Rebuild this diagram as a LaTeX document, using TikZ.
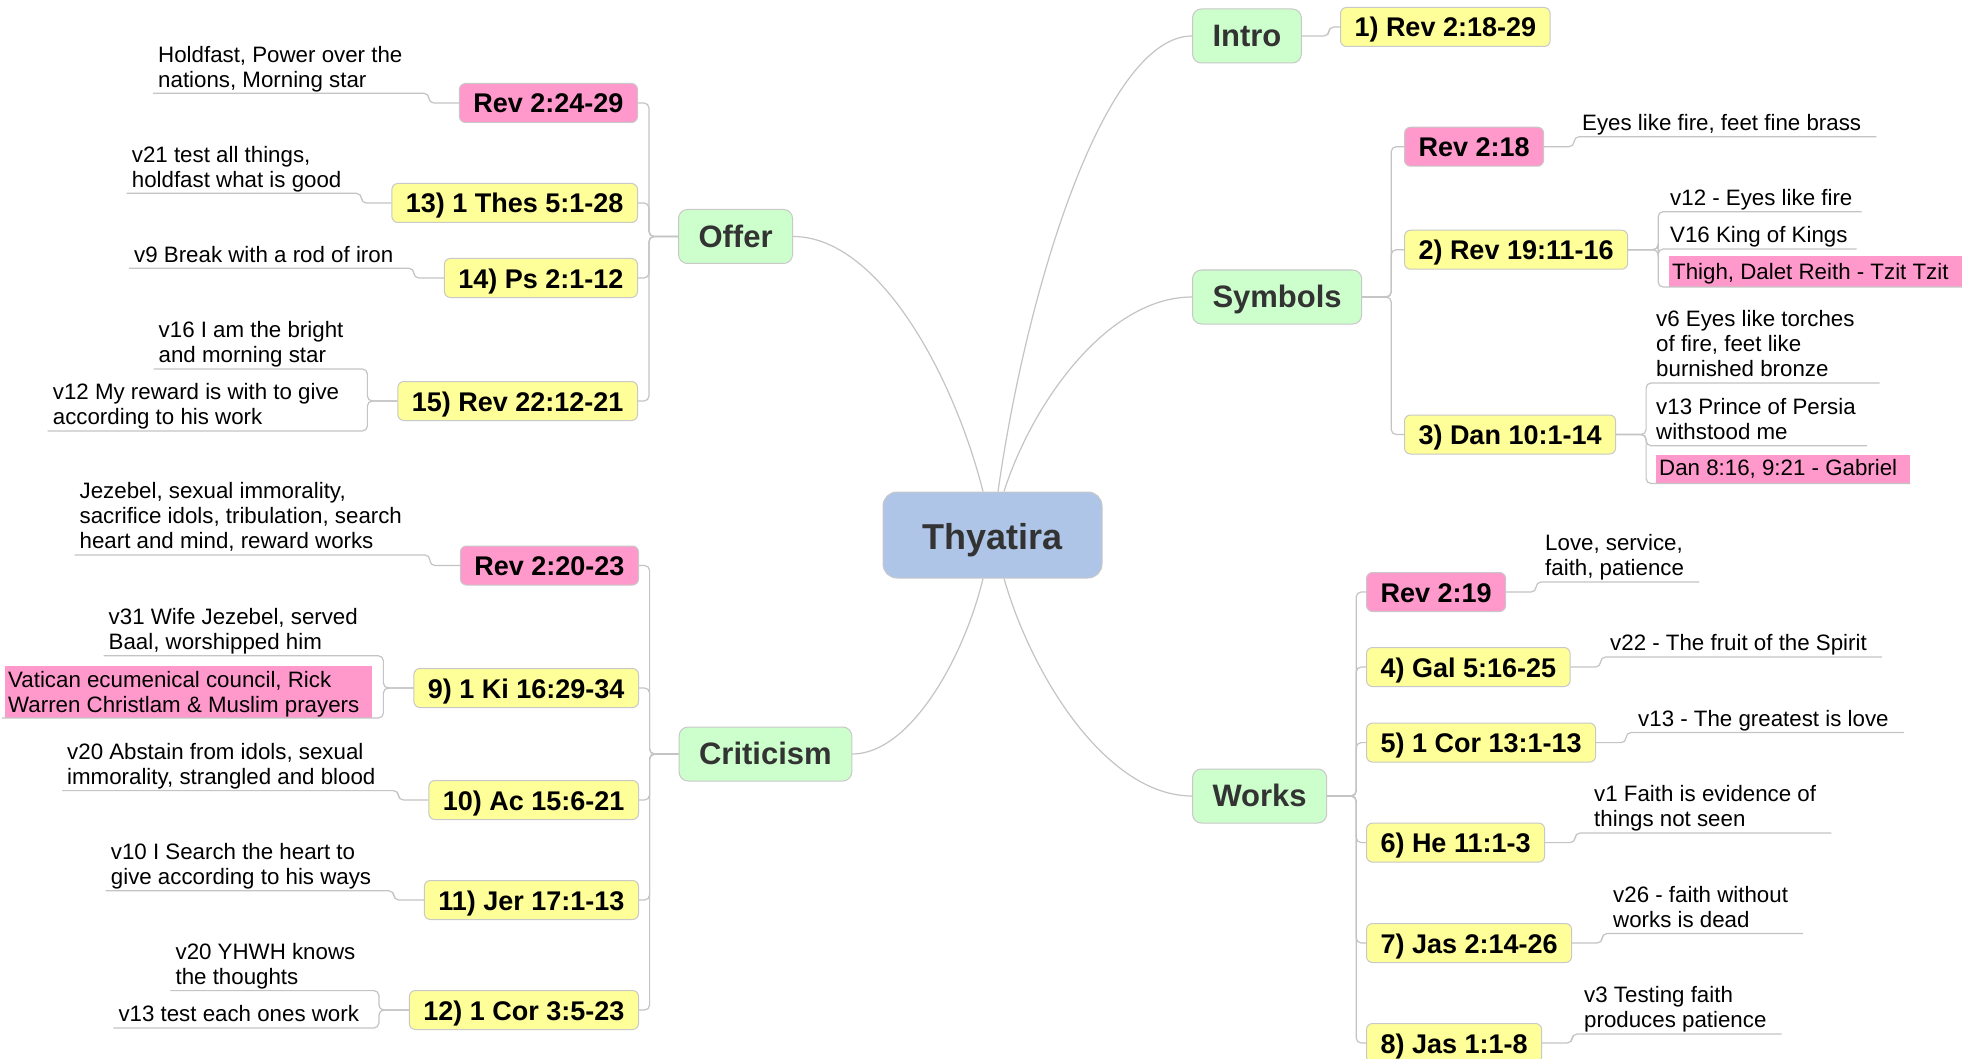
\documentclass[tikz,border=0pt]{standalone}
\usepackage{fontspec}
\setmainfont{Liberation Sans}
\usetikzlibrary{calc}
\definecolor{cblue}{HTML}{AFC5E8}
\definecolor{cgreen}{HTML}{CCFFCC}
\definecolor{cyellow}{HTML}{FFFF99}
\definecolor{cpink}{HTML}{FF99CC}
\definecolor{cborder}{HTML}{C8C8C8}
\definecolor{cline}{HTML}{C4C4C4}
\definecolor{ctext}{HTML}{333333}
\newcommand{\notefont}{\fontsize{22.3}{25}\selectfont}
\newcommand{\ns}{\rule[-6pt]{0pt}{6pt}}
\newcommand{\padr}{\hspace*{10pt}}
\begin{document}
\begin{tikzpicture}[x=1pt,y=-1pt,
  rootnode/.style={draw=cborder, line width=1pt, fill=cblue, rounded corners=14pt,
    minimum width=219pt, minimum height=86pt, inner sep=0pt,
    text height=34pt, text depth=6pt,
    font=\fontsize{36}{40}\selectfont\bfseries, text=ctext},
  maintopic/.style={draw=cborder, line width=1pt, fill=cgreen, rounded corners=9pt,
    inner xsep=20pt, inner ysep=0pt, minimum height=54pt,
    text height=27pt, text depth=5.6pt,
    font=\fontsize{31}{36}\selectfont\bfseries, text=ctext},
  subtopic/.style={draw=cborder, line width=1pt, rounded corners=6pt,
    inner xsep=14pt, inner ysep=0pt, minimum height=39pt,
    text height=24pt, text depth=4pt,
    font=\fontsize{27}{30}\selectfont\bfseries},
  yellowbox/.style={subtopic, fill=cyellow},
  pinkbox/.style={subtopic, fill=cpink},
  note/.style={font=\notefont, align=left, inner xsep=5pt, inner ysep=0pt},
  pinknote/.style={note, fill=cpink, inner xsep=3pt},
  link/.style={draw=cline, line width=1.2pt},
  branch/.style={draw=cline, line width=1.2pt, rounded corners=5pt},
]
\fill[white] (0,0) rectangle (1969,1059);
\useasboundingbox (0,0) rectangle (1969,1059);

% ---------- central and main topics ----------
\node[rootnode] (th) at (992.5,535) {Thyatira};
\node[maintopic, anchor=west] (intro) at (1192,36) {Intro};
\node[maintopic, anchor=west] (sym) at (1192,297) {Symbols};
\node[maintopic, anchor=west] (works) at (1192,796) {Works};
\node[maintopic, anchor=west] (offer) at (678,236.5) {Offer};
\node[maintopic, anchor=west] (crit) at (678.6,754) {Criticism};

% curves from the centre
\draw[link] ([xshift=-9.5pt]th.north) .. controls +(-29,-115) and +(86,0) .. (offer.east);
\draw[link] ([xshift=5.5pt]th.north) .. controls +(29,-205) and +(-87,0) .. (intro.west);
\draw[link] ([xshift=11.5pt]th.north) .. controls +(28,-88) and +(-85,0) .. (sym.west);
\draw[link] ([xshift=11.5pt]th.south) .. controls +(28,98) and +(-85,0) .. (works.west);
\draw[link] ([xshift=-9.5pt]th.south) .. controls +(-19,79) and +(58,0) .. (crit.east);

% ---------- subtopics ----------
\node[yellowbox, anchor=west] (i1) at (1340,27) {1) Rev 2:18-29};

\node[pinkbox, anchor=west] (s0) at (1404,146.7) {Rev 2:18};
\node[yellowbox, anchor=west] (s2) at (1404,249.7) {2) Rev 19:11-16};
\node[yellowbox, anchor=west] (s3) at (1404,434.5) {3) Dan 10:1-14};

\node[pinkbox, anchor=west] (w0) at (1366,592) {Rev 2:19};
\node[yellowbox, anchor=west] (w4) at (1366,667) {4) Gal 5:16-25};
\node[yellowbox, anchor=west] (w5) at (1366,742.6) {5) 1 Cor 13:1-13};
\node[yellowbox, anchor=west] (w6) at (1366,842.6) {6) He 11:1-3};
\node[yellowbox, anchor=west] (w7) at (1366,943) {7) Jas 2:14-26};
\node[yellowbox, anchor=west] (w8) at (1366,1043) {8) Jas 1:1-8};

\node[pinkbox, anchor=east] (o0) at (638,103) {Rev 2:24-29};
\node[yellowbox, anchor=east] (o13) at (638,203) {13) 1 Thes 5:1-28};
\node[yellowbox, anchor=east] (o14) at (638,278) {14) Ps 2:1-12};
\node[yellowbox, anchor=east] (o15) at (638,401) {15) Rev 22:12-21};

\node[pinkbox, anchor=east] (c0) at (639,565.5) {Rev 2:20-23};
\node[yellowbox, anchor=east] (c9) at (639,688) {9) 1 Ki 16:29-34};
\node[yellowbox, anchor=east] (c10) at (639,800) {10) Ac 15:6-21};
\node[yellowbox, anchor=east] (c11) at (639,900) {11) Jer 17:1-13};
\node[yellowbox, anchor=east] (c12) at (639,1010) {12) 1 Cor 3:5-23};

\draw[branch] (intro.east) -- ++(27,0) |- (i1.west);
\foreach \c in {s0,s2,s3} \draw[branch] (sym.east) -- ++(29,0) |- (\c.west);
\foreach \c in {w0,w4,w5,w6,w7,w8} \draw[branch] (works.east) -- ++(29,0) |- (\c.west);
\foreach \c in {o0,o13,o14,o15} \draw[branch] (offer.west) -- ++(-29,0) |- (\c.east);
\foreach \c in {c0,c9,c10,c11,c12} \draw[branch] (crit.west) -- ++(-29,0) |- (\c.east);

% ---------- notes, right side ----------
\node[note, anchor=south west] (ns0) at (1577,136.7) {Eyes like fire, feet fine brass\ns};
\draw[branch] (s0.east) -- ++(30,0) |- ([xshift=10pt]ns0.south east);

\node[note, anchor=south west] (ns2a) at (1665,211.7) {v12 - Eyes like fire\ns};
\node[note, anchor=south west] (ns2b) at (1665,249) {V16 King of Kings\ns};
\node[pinknote, anchor=south west] (ns2c) at (1669,287) {\rule{0pt}{23.5pt}Thigh, Dalet Reith - Tzit Tzit\padr\strut};
\draw[branch] (s2.east) -- ++(30,0) |- ([xshift=4pt]ns2a.south east);
\draw[branch] (s2.east) -- ++(30,0) |- ([xshift=4pt]ns2b.south east);
\draw[branch] (s2.east) -- ++(30,0) |- (ns2c.south east);

\node[note, anchor=south west] (ns3a) at (1651,383) {v6 Eyes like torches\\of fire, feet like\\burnished bronze\ns};
\node[note, anchor=south west] (ns3b) at (1651,445.7) {v13 Prince of Persia\\withstood me\ns};
\node[pinknote, anchor=south west] (ns3c) at (1656,483.5) {\rule{0pt}{21pt}Dan 8:16, 9:21 - Gabriel\padr\strut};
\draw[branch] (s3.east) -- ++(30,0) |- ([xshift=20pt]ns3a.south east);
\draw[branch] (s3.east) -- ++(30,0) |- ([xshift=6pt]ns3b.south east);
\draw[branch] (s3.east) -- ++(30,0) |- (ns3c.south east);

\node[note, anchor=south west] (nw0) at (1540,582) {Love, service,\\faith, patience\ns};
\node[note, anchor=south west] (nw4) at (1605,657) {v22 - The fruit of the Spirit\ns};
\node[note, anchor=south west] (nw5) at (1633,732.5) {v13 - The greatest is love\ns};
\node[note, anchor=south west] (nw6) at (1589,833) {v1 Faith is evidence of\\things not seen\ns};
\node[note, anchor=south west] (nw7) at (1608,933.5) {v26 - faith without\\works is dead\ns};
\node[note, anchor=south west] (nw8) at (1579,1034) {v3 Testing faith\\produces patience\ns};
\draw[branch] (w0.east) -- ++(30,0) |- ([xshift=10pt]nw0.south east);
\draw[branch] (w4.east) -- ++(30,0) |- ([xshift=10pt]nw4.south east);
\draw[branch] (w5.east) -- ++(30,0) |- ([xshift=10pt]nw5.south east);
\draw[branch] (w6.east) -- ++(30,0) |- ([xshift=10pt]nw6.south east);
\draw[branch] (w7.east) -- ++(30,0) |- ([xshift=10pt]nw7.south east);
\draw[branch] (w8.east) -- ++(30,0) |- ([xshift=10pt]nw8.south east);

% ---------- notes, left side ----------
\node[note, anchor=south west] (no0) at (153,93.3) {Holdfast, Power over the\\nations, Morning star\ns};
\node[note, anchor=south west] (no13) at (126.7,193.3) {v21 test all things,\\holdfast what is good\ns};
\node[note, anchor=south west] (no14) at (129,268.3) {v9 Break with a rod of iron\ns};
\node[note, anchor=south west] (no15a) at (153.5,369) {v16 I am the bright\\and morning star\ns};
\node[note, anchor=south west] (no15b) at (47.7,431) {v12 My reward is with to give\\according to his work\ns};
\draw[branch] (o0.west) -- ++(-30,0) |- (no0.south west);
\draw[branch] (o13.west) -- ++(-30,0) |- (no13.south west);
\draw[branch] (o14.west) -- ++(-30,0) |- (no14.south west);
\draw[branch] (o15.west) -- ++(-30,0) |- (no15a.south west);
\draw[branch] (o15.west) -- ++(-30,0) |- (no15b.south west);

\node[note, anchor=south west] (nc0) at (74.5,555) {Jezebel, sexual immorality,\\sacrifice idols, tribulation, search\\heart and mind, reward works\ns};
\node[note, anchor=south west] (nc9a) at (103.5,655.8) {v31 Wife Jezebel, served\\Baal, worshipped him\ns};
\node[pinknote, anchor=south west] (nc9b) at (5,718) {\rule{0pt}{22pt}Vatican ecumenical council, Rick\\Warren Christlam \& Muslim prayers\padr\rule[-5pt]{0pt}{5pt}};
\node[note, anchor=south west] (nc10) at (62,790.6) {v20 Abstain from idols, sexual\\immorality, strangled and blood\ns};
\node[note, anchor=south west] (nc11) at (105.7,890.8) {v10 I Search the heart to\\give according to his ways\ns};
\node[note, anchor=south west] (nc12a) at (170.4,990.6) {v20 YHWH knows\\the thoughts\ns};
\node[note, anchor=south west] (nc12b) at (113.3,1028) {v13 test each ones work\ns};
\draw[branch] (c0.west) -- ++(-30,0) |- (nc0.south west);
\draw[branch] (c9.west) -- ++(-30,0) |- (nc9a.south west);
\draw[branch] (c9.west) -- ++(-30,0) |- ([xshift=-3pt]nc9b.south west);
\draw[branch] (c10.west) -- ++(-30,0) |- (nc10.south west);
\draw[branch] (c11.west) -- ++(-30,0) |- (nc11.south west);
\draw[branch] (c12.west) -- ++(-30,0) |- (nc12a.south west);
\draw[branch] (c12.west) -- ++(-30,0) |- (nc12b.south west);
\end{tikzpicture}
\end{document}
